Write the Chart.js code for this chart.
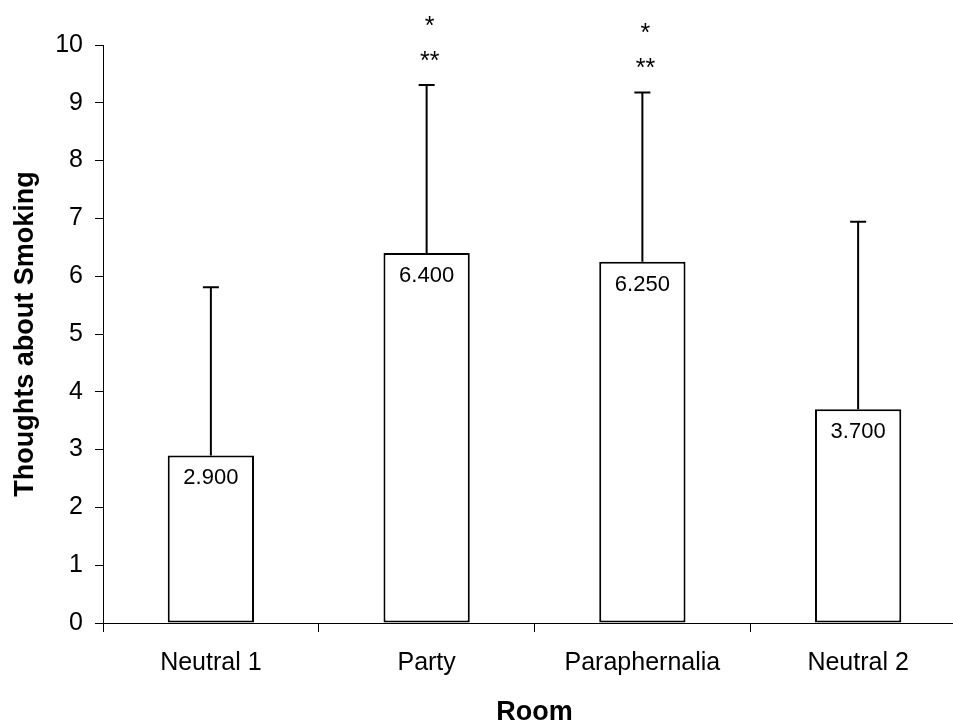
<!DOCTYPE html>
<html lang="en">
<head>
    <meta charset="UTF-8">
    <title>Thoughts about Smoking by Room</title>
    <script src="https://cdn.jsdelivr.net/npm/chart.js"></script>
    <style>
        html, body { margin: 0; padding: 0; overflow: hidden; background: #fff; }
        .wrap { width: 980px; height: 723px; }
    </style>
</head>
<body>
    <div class="wrap"><canvas id="roomChart"></canvas></div>

    <script>
        const rooms = ["Neutral 1", "Party", "Paraphernalia", "Neutral 2"];
        const means = [2.9, 6.4, 6.25, 3.7];
        const errors = [2.91, 2.91, 2.93, 3.24];
        const stars = [[], ["*", "**"], ["*", "**"], []];

        const FONT = "'Liberation Sans', Arial, sans-serif";

        // error bars, value labels and significance stars
        const extras = {
            id: "extras",
            afterDatasetsDraw(chart) {
                const ctx = chart.ctx;
                const y = chart.scales.y;
                const meta = chart.getDatasetMeta(0);
                ctx.save();
                meta.data.forEach((bar, i) => {
                    const top = y.getPixelForValue(means[i] + errors[i]);
                    ctx.strokeStyle = "#000";
                    ctx.lineWidth = 2;
                    ctx.beginPath();
                    ctx.moveTo(bar.x, bar.y);
                    ctx.lineTo(bar.x, top);
                    ctx.moveTo(bar.x - 8, top);
                    ctx.lineTo(bar.x + 8, top);
                    ctx.stroke();

                    ctx.fillStyle = "#000";
                    ctx.textAlign = "center";
                    ctx.textBaseline = "middle";
                    ctx.font = "22px " + FONT;
                    ctx.fillText(means[i].toFixed(3), bar.x, bar.y + 23);

                    ctx.font = "25px " + FONT;
                    ctx.textBaseline = "alphabetic";
                    if (stars[i].length) {
                        ctx.fillText(stars[i][1], bar.x + 3, top - 16);
                        ctx.fillText(stars[i][0], bar.x + 3, top - 51);
                    }
                });
                ctx.restore();
            }
        };

        new Chart(document.getElementById("roomChart"), {
            type: "bar",
            data: {
                labels: rooms,
                datasets: [{
                    data: means,
                    backgroundColor: "#fff",
                    borderColor: "#000",
                    borderWidth: 2,
                    borderSkipped: false,
                    categoryPercentage: 1,
                    barPercentage: 0.4
                }]
            },
            options: {
                responsive: true,
                maintainAspectRatio: false,
                animation: false,
                layout: { padding: { top: 45, right: 14, left: 0, bottom: 0 } },
                plugins: { legend: { display: false }, tooltip: { enabled: false } },
                scales: {
                    x: {
                        grid: { drawOnChartArea: false, tickLength: 9, color: "#000", offset: true },
                        border: { color: "#000", width: 1 },
                        ticks: { color: "#000", font: { family: FONT, size: 25 }, padding: 16, maxRotation: 0 },
                        title: { display: true, text: "Room", color: "#000", font: { family: FONT, size: 27, weight: "bold", lineHeight: 0.8 }, padding: 0 },
                        afterFit: (scale) => { scale.height = 100; }
                    },
                    y: {
                        min: 0,
                        max: 10,
                        grid: { drawOnChartArea: false, tickLength: 8, color: "#000" },
                        border: { color: "#000", width: 1 },
                        ticks: { stepSize: 1, color: "#000", font: { family: FONT, size: 25 }, padding: 12 },
                        title: { display: true, text: "Thoughts about Smoking", color: "#000", font: { family: FONT, size: 27, weight: "bold", lineHeight: 1 }, padding: { top: 12, bottom: 0 } },
                        afterFit: (scale) => { scale.width = 103; }
                    }
                }
            },
            plugins: [extras]
        });
    </script>
</body>
</html>
